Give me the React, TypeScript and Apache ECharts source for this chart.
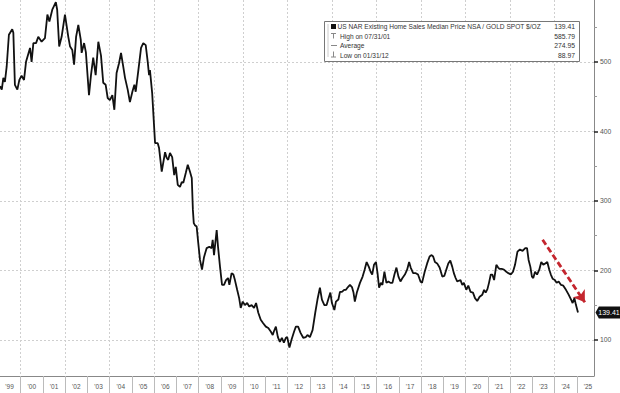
import React, { useEffect, useRef } from "react";
import * as echarts from "echarts";

// Decimal-year positions of the readings and the ratio values
const years = [
  1999.07, 1999.15, 1999.22, 1999.29, 1999.37, 1999.47, 1999.62, 1999.67, 1999.74, 1999.85, 1999.94,
  2000.04, 2000.15, 2000.24, 2000.42, 2000.49, 2000.57, 2000.69, 2000.79, 2000.94,
  2001.09, 2001.2, 2001.29, 2001.42, 2001.58, 2001.64, 2001.73, 2001.84, 2001.99,
  2002.14, 2002.22, 2002.32, 2002.4, 2002.49, 2002.59, 2002.7, 2002.74, 2002.85, 2002.93,
  2003.07, 2003.16, 2003.26, 2003.37, 2003.49, 2003.61, 2003.71, 2003.82, 2003.91,
  2004.01, 2004.12, 2004.21, 2004.31, 2004.42, 2004.51, 2004.61, 2004.69, 2004.81, 2004.91,
  2005.02, 2005.11, 2005.17, 2005.29, 2005.41, 2005.51, 2005.62, 2005.71, 2005.77, 2005.81, 2005.91,
  2006.04, 2006.16, 2006.22, 2006.34, 2006.49, 2006.56, 2006.63, 2006.71, 2006.81, 2006.9, 2006.97,
  2007.06, 2007.16, 2007.24, 2007.31, 2007.42, 2007.51, 2007.61, 2007.69, 2007.74, 2007.78, 2007.83, 2007.91, 2007.98,
  2008.06, 2008.15, 2008.24, 2008.36, 2008.48, 2008.58, 2008.63, 2008.69, 2008.75, 2008.81, 2008.87, 2008.96,
  2009.05, 2009.14, 2009.23, 2009.32, 2009.38, 2009.48, 2009.56, 2009.63, 2009.73, 2009.82, 2009.89, 2009.98,
  2010.08, 2010.18, 2010.27, 2010.38, 2010.49, 2010.58, 2010.68, 2010.79, 2010.9,
  2011.02, 2011.13, 2011.24, 2011.33, 2011.38, 2011.47, 2011.56, 2011.65, 2011.74, 2011.83, 2011.92, 2011.98,
  2012.08, 2012.18, 2012.29, 2012.37, 2012.47, 2012.58, 2012.7, 2012.82, 2012.89,
  2013.0, 2013.12, 2013.24, 2013.34, 2013.45, 2013.54, 2013.65, 2013.75, 2013.84, 2013.92, 2013.99,
  2014.1, 2014.17, 2014.28, 2014.35, 2014.44, 2014.54, 2014.62, 2014.71, 2014.8, 2014.89, 2014.96,
  2015.02, 2015.11, 2015.25, 2015.37, 2015.46, 2015.55, 2015.65, 2015.73, 2015.8, 2015.88, 2015.97,
  2016.04, 2016.11, 2016.19, 2016.26, 2016.35, 2016.44, 2016.53, 2016.62, 2016.71, 2016.8, 2016.89, 2016.98,
  2017.07, 2017.16, 2017.27, 2017.37, 2017.46, 2017.53, 2017.64, 2017.76, 2017.86, 2017.97,
  2018.04, 2018.16, 2018.27, 2018.38, 2018.47, 2018.54, 2018.62, 2018.72, 2018.83, 2018.95,
  2019.04, 2019.13, 2019.22, 2019.31, 2019.4, 2019.47, 2019.55, 2019.62, 2019.69, 2019.77, 2019.85, 2019.92,
  2020.03, 2020.12, 2020.22, 2020.33, 2020.42, 2020.52, 2020.63, 2020.75, 2020.83, 2020.9, 2020.98,
  2021.05, 2021.13, 2021.2, 2021.28, 2021.38, 2021.46, 2021.53, 2021.62, 2021.72, 2021.83, 2021.92,
  2022.03, 2022.13, 2022.22, 2022.33, 2022.44, 2022.56, 2022.68, 2022.76, 2022.83, 2022.91, 2022.98,
  2023.04, 2023.12, 2023.21, 2023.31, 2023.4, 2023.49, 2023.58, 2023.67, 2023.76, 2023.83, 2023.91,
  2024.01, 2024.09, 2024.18, 2024.29, 2024.39, 2024.51, 2024.63, 2024.74, 2024.81, 2024.89, 2024.96,
  2025.05,
];

const values = [
  465, 460, 477, 471, 493, 539, 547, 542, 467, 460, 474,
  480, 474, 500, 520, 500, 527, 527, 536, 529,
  534, 568, 558, 575, 585.79, 575, 522, 536, 568,
  536, 522, 517, 496, 536, 553, 532, 513, 527, 514,
  452, 481, 506, 481, 529, 509, 470, 467, 448,
  445, 452, 431, 484, 498, 513, 493, 477, 460, 442,
  457, 467, 457, 488, 520, 527, 524, 500, 481, 488, 455,
  383, 383, 376, 342, 370, 362, 359, 369, 363, 337, 349,
  323, 320, 327, 326, 340, 352, 342, 333, 287, 268, 265, 263, 240,
  215, 201, 219, 232, 234, 232, 244, 222, 240, 258, 234, 205,
  179, 179, 186, 189, 179, 196, 194, 186, 172, 160, 146, 155,
  150, 153, 148, 150, 146, 153, 139, 129, 124,
  119, 117, 112, 107, 112, 119, 104, 97, 103, 96, 103, 104,
  88.97, 101, 112, 119, 119, 110, 103, 104, 107,
  104, 114, 139, 158, 175, 158, 150, 150, 160, 168, 153,
  143, 155, 158, 169, 169, 172, 172, 176, 179, 176, 168,
  155, 168, 182, 191, 201, 212, 205, 198, 194, 208, 212,
  196, 175, 182, 179, 198, 182, 184, 182, 182, 194, 204, 191,
  184, 189, 194, 201, 212, 204, 196, 196, 194, 184,
  182, 198, 210, 220, 222, 220, 212, 210, 204, 191,
  192, 201, 210, 214, 205, 196, 189, 184, 185, 186, 179, 182,
  172, 178, 169, 168, 160, 156, 162, 165, 172, 168, 173,
  182, 194, 194, 186, 208, 204, 202, 202, 201, 198, 196,
  194, 198, 208, 227, 230, 228, 232, 232, 215, 205, 191,
  189, 198, 194, 201, 212, 208, 210, 212, 201, 194, 188,
  186, 182, 184, 179, 178, 172, 165, 158, 153, 160, 150,
  139.41,
];

const X_MIN = 1999.07;
const X_MAX = 2025.77;
const Y_MIN = 48;
const Y_MAX = 589;

const yearTicks = [2000, 2001, 2002, 2003, 2004, 2005, 2006, 2007, 2008, 2009, 2010, 2011, 2012,
  2013, 2014, 2015, 2016, 2017, 2018, 2019, 2020, 2021, 2022, 2023, 2024, 2025];
const yearLabelPositions = [1999.5, 2000.5, 2001.5, 2002.5, 2003.5, 2004.5, 2005.5, 2006.5, 2007.5,
  2008.5, 2009.5, 2010.5, 2011.5, 2012.5, 2013.5, 2014.5, 2015.5, 2016.5, 2017.5, 2018.5, 2019.5,
  2020.5, 2021.5, 2022.5, 2023.5, 2024.5, 2025.5];
const gridYears = [2000, 2002, 2004, 2006, 2008, 2010, 2012, 2014, 2016, 2018, 2020, 2022, 2024];
const yMajorTicks = [100, 200, 300, 400, 500];
const yMinorTicks = [150, 250, 350, 450, 550];

const seriesName = "US NAR Existing Home Sales Median Price NSA / GOLD SPOT $/OZ";
const legendLabels = [seriesName, "High on 07/31/01", "Average", "Low on 01/31/12"];
const legendValues = ["139.41", "585.79", "274.95", "88.97"];

const arrowStart = [2023.46, 244];
const arrowEnd = [2025.36, 154];

const FONT = "Liberation Sans";

export default function App() {
  const ref = useRef<HTMLDivElement>(null);

  useEffect(() => {
    document.body.style.margin = "0";
    if (!ref.current) return;
    const chart = echarts.init(ref.current, undefined, { renderer: "svg" });
    const data = years.map((y, i) => [y, values[i]]);
    const lastVal = values[values.length - 1];

    const rowY = [26.5, 36, 45.5, 55];
    const legendGraphics: any[] = [
      {
        type: "rect",
        shape: { x: 324.5, y: 21.5, width: 255, height: 40 },
        style: { fill: "#fff", stroke: "#777", lineWidth: 1 },
        z: 100,
      },
      {
        type: "line",
        shape: { x1: 328, y1: 24, x2: 328, y2: 57 },
        style: { stroke: "#ccc", lineWidth: 1 },
        z: 101,
      },
      { type: "rect", shape: { x: 331, y: 24, width: 5, height: 5 }, style: { fill: "#111" }, z: 101 },
      { type: "line", shape: { x1: 331, y1: 33.5, x2: 336, y2: 33.5 }, style: { stroke: "#888", lineWidth: 1 }, z: 101 },
      { type: "line", shape: { x1: 333.5, y1: 33.5, x2: 333.5, y2: 38.5 }, style: { stroke: "#888", lineWidth: 1 }, z: 101 },
      { type: "line", shape: { x1: 331, y1: 45.5, x2: 337, y2: 45.5 }, style: { stroke: "#888", lineWidth: 1 }, z: 101 },
      { type: "line", shape: { x1: 333.5, y1: 51.5, x2: 333.5, y2: 57 }, style: { stroke: "#888", lineWidth: 1 }, z: 101 },
      { type: "line", shape: { x1: 331, y1: 57, x2: 336, y2: 57 }, style: { stroke: "#888", lineWidth: 1 }, z: 101 },
    ];
    legendLabels.forEach((t, i) => {
      legendGraphics.push({
        type: "text",
        x: i === 0 ? 337.5 : 340,
        y: rowY[i],
        style: { text: t, fill: "#333", font: `6.6px ${FONT}`, textVerticalAlign: "middle", textAlign: "left" },
        z: 101,
      });
      legendGraphics.push({
        type: "text",
        x: 575,
        y: rowY[i],
        style: { text: legendValues[i], fill: "#333", font: `6.8px ${FONT}`, textVerticalAlign: "middle", textAlign: "right" },
        z: 101,
      });
    });

    chart.setOption({
      animation: false,
      backgroundColor: "#fff",
      textStyle: { fontFamily: FONT },
      grid: { left: 0, right: 26, top: 0, bottom: 17, containLabel: false },
      xAxis: [
        {
          type: "value",
          min: X_MIN,
          max: X_MAX,
          position: "bottom",
          axisLine: { show: true, lineStyle: { color: "#888", width: 1 } },
          axisTick: { show: true, customValues: yearTicks, length: 17, lineStyle: { color: "#bbb" } },
          axisLabel: {
            show: true,
            customValues: yearLabelPositions,
            formatter: (v: number) => "'" + String(Math.floor(v)).slice(2),
            fontSize: 6.5,
            color: "#555",
            margin: 7,
          },
          splitLine: { show: false },
        },
        {
          type: "value",
          min: X_MIN,
          max: X_MAX,
          position: "top",
          axisLine: { show: false },
          axisTick: { show: false, customValues: gridYears },
          axisLabel: { show: false },
          splitLine: { show: true, lineStyle: { color: "#cfcfcf", type: [2, 2], width: 1 } },
        },
      ],
      yAxis: [
        {
          type: "value",
          min: Y_MIN,
          max: Y_MAX,
          position: "right",
          axisLine: { show: true, lineStyle: { color: "#888", width: 1 } },
          axisTick: { show: true, customValues: yMajorTicks, length: 4, lineStyle: { color: "#222", width: 1.5 } },
          axisLabel: { show: true, customValues: yMajorTicks, fontSize: 6.8, color: "#555", margin: 6 },
          splitLine: { show: true, lineStyle: { color: "#cfcfcf", type: [2, 2], width: 1 } },
        },
        {
          type: "value",
          min: Y_MIN,
          max: Y_MAX,
          position: "right",
          axisLine: { show: false },
          axisTick: { show: true, customValues: yMinorTicks, length: 3, lineStyle: { color: "#999" } },
          axisLabel: { show: false },
          splitLine: { show: false },
        },
      ],
      series: [
        {
          name: seriesName,
          type: "line",
          xAxisIndex: 0,
          yAxisIndex: 0,
          data,
          showSymbol: false,
          symbol: "none",
          lineStyle: { color: "#111", width: 1.8 },
          z: 5,
          markLine: {
            silent: true,
            symbol: ["none", "arrow"],
            symbolSize: 11,
            label: { show: false },
            lineStyle: { color: "#c4262e", width: 2.8, type: [6, 3] },
            itemStyle: { color: "#c4262e" },
            data: [[{ coord: arrowStart }, { coord: arrowEnd }]],
          },
          markPoint: {
            silent: true,
            symbol: "path://M0,6 L4,0 L30,0 L30,12 L4,12 Z",
            symbolSize: [25, 12],
            symbolOffset: [14, 0],
            itemStyle: { color: "#111" },
            label: { show: true, formatter: String(lastVal), color: "#fff", fontSize: 7, offset: [1, 0] },
            data: [{ coord: [X_MAX, lastVal], value: lastVal }],
          },
        },
      ],
      graphic: legendGraphics,
    });

    return () => chart.dispose();
  }, []);

  return <div ref={ref} style={{ width: 620, height: 393 }} />;
}
